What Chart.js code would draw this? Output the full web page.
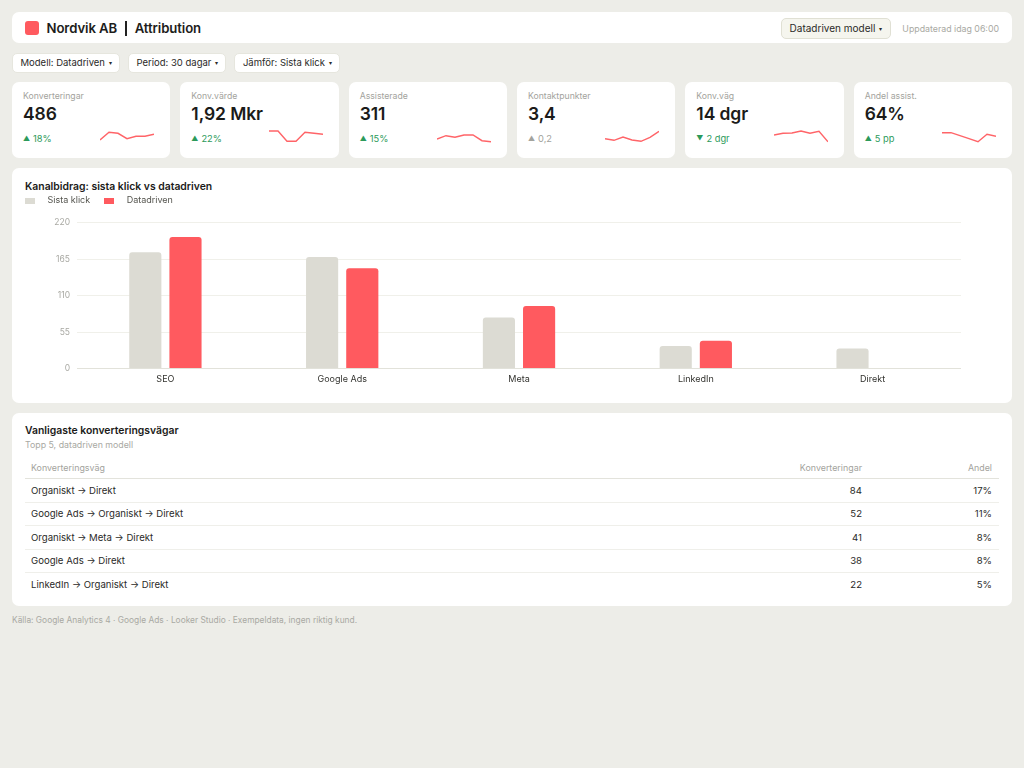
<!DOCTYPE html>
<html lang="sv">
<head>
<meta charset="utf-8">
<title>Nordvik AB | Attribution</title>
<script src="https://cdn.jsdelivr.net/npm/chart.js@4/dist/chart.umd.min.js"></script>
<style>
  html,body{margin:0;padding:0;}
  body{width:1024px;height:768px;background:#ededE8;font-family:Inter,"Noto Sans",sans-serif;color:#1d1d1b;position:relative;overflow:hidden;}
  .card{position:absolute;background:#fff;border-radius:7px;box-sizing:border-box;}
  #hdr{left:12px;top:12px;width:1000px;height:31px;}
  .logo{position:absolute;left:13px;top:8.5px;width:14px;height:14px;border-radius:3px;background:#ff5a5f;}
  .ttl{position:absolute;left:34.5px;top:6px;line-height:20px;font-size:13.2px;font-weight:600;white-space:nowrap;letter-spacing:-0.1px;}
  .sep{display:inline-block;width:1.5px;height:15px;background:#222;vertical-align:-2.5px;margin:0 8px 0 8px;}
  .hr{position:absolute;right:13px;top:5.5px;height:21px;display:flex;align-items:center;gap:11px;}
  .btn{height:21px;box-sizing:border-box;border:1px solid #e0e0d4;background:#f5f5ee;border-radius:5px;font-size:10px;line-height:19px;padding:0 8px 0 8px;color:#2a2a28;white-space:nowrap;}
  .caret{font-size:6px;vertical-align:1px;margin-left:4px;}
  .upd{font-size:8.8px;line-height:13px;color:#a9a9a3;white-space:nowrap;}
  #filters{position:absolute;left:12px;top:53px;display:flex;gap:8px;}
  .pill{height:20px;box-sizing:border-box;border:1px solid #e6e6de;background:#fff;border-radius:5px;font-size:9.5px;line-height:18px;padding:0 7px 0 7.5px;color:#2a2a28;white-space:nowrap;}
  #kpis{position:absolute;left:12px;top:82px;width:1000px;height:76px;display:grid;grid-template-columns:repeat(6,1fr);column-gap:10px;}
  .kpi{position:relative;background:#fff;border-radius:7px;}
  .kl{position:absolute;left:11px;top:8px;font-size:8.7px;line-height:12px;color:#a3a39d;}
  .kv{position:absolute;left:11px;top:21px;font-size:17.5px;line-height:22px;font-weight:600;color:#1b1b19;letter-spacing:-0.1px;}
  .kd{position:absolute;left:11px;top:51px;font-size:9.3px;line-height:12px;color:#2c9a5a;}
  .kd.neu{color:#a3a39d;}
  .tri{font-size:7px;vertical-align:1px;margin-right:3px;}
  .spark{position:absolute;right:16px;top:44px;width:54px;height:18px;}
  #chartCard{left:12px;top:168px;width:1000px;height:235px;}
  .ct{position:absolute;left:13px;top:11.5px;font-size:10.4px;line-height:14px;font-weight:600;color:#1b1b19;}
  #barWrap{position:absolute;left:-1px;top:21.5px;width:950px;height:195.5px;}
  #tableCard{left:12px;top:413px;width:1000px;height:193px;}
  .tt{position:absolute;left:13px;top:10.5px;font-size:10.4px;line-height:14px;font-weight:600;color:#1b1b19;}
  .ts{position:absolute;left:13px;top:25.5px;font-size:8.8px;line-height:12px;color:#a9a9a3;}
  table{position:absolute;left:13px;top:43px;width:974px;border-collapse:collapse;font-size:9.6px;color:#2a2a28;}
  th{font-weight:400;font-size:8.9px;color:#a3a39d;height:22px;padding:0 7px 0 6px;border-bottom:1px solid #e3e3dc;text-align:left;}
  td{height:22.5px;padding:0 7px 0 6px;border-bottom:1px solid #efefea;}
  tr:last-child td{border-bottom:none;}
  .r{text-align:right;}
  .foot{position:absolute;left:12px;top:614px;font-size:8.4px;line-height:12px;color:#a9a9a3;white-space:nowrap;}
</style>
</head>
<body>
<div class="card" id="hdr">
  <div class="logo"></div>
  <div class="ttl">Nordvik AB<span class="sep"></span>Attribution</div>
  <div class="hr">
    <div class="btn">Datadriven modell<span class="caret">▾</span></div>
    <div class="upd">Uppdaterad idag 06:00</div>
  </div>
</div>

<div id="filters">
  <div class="pill">Modell: Datadriven<span class="caret">▾</span></div>
  <div class="pill">Period: 30 dagar<span class="caret">▾</span></div>
  <div class="pill">Jämför: Sista klick<span class="caret">▾</span></div>
</div>

<div id="kpis"></div>

<div class="card" id="chartCard">
  <div class="ct">Kanalbidrag: sista klick vs datadriven</div>
  <div id="barWrap"><canvas id="bars"></canvas></div>
</div>

<div class="card" id="tableCard">
  <div class="tt">Vanligaste konverteringsvägar</div>
  <div class="ts">Topp 5, datadriven modell</div>
  <table id="paths">
    <thead><tr><th>Konverteringsväg</th><th class="r" style="width:150px;">Konverteringar</th><th class="r" style="width:117px;">Andel</th></tr></thead>
    <tbody></tbody>
  </table>
</div>

<div class="foot">Källa: Google Analytics 4 · Google Ads · Looker Studio · Exempeldata, ingen riktig kund.</div>

<script>
// ---- Data ----
const kanaler = ['SEO', 'Google Ads', 'Meta', 'LinkedIn', 'Direkt'];
const sistaKlick = [175, 168, 77, 34, 30];
const datadriven = [198, 151, 94, 42, null];
const yTicks = [0, 55, 110, 165, 220];

const kpiLabels = ['Konverteringar', 'Konv.värde', 'Assisterade', 'Kontaktpunkter', 'Konv.väg', 'Andel assist.'];
const kpiValues = ['486', '1,92 Mkr', '311', '3,4', '14 dgr', '64%'];
const kpiDeltas = ['18%', '22%', '15%', '0,2', '2 dgr', '5 pp'];
const kpiDir = ['up', 'up', 'up', 'neutral', 'down', 'up'];

const sparkKonv = [4, 11.7, 10.7, 5.3, 7.7, 7.7, 9.7];
const sparkVarde = [13, 13, 2.7, 2.7, 11.7, 10.7, 9.7];
const sparkAssist = [5, 8.3, 6.7, 9, 9, 3.3, 2.3];
const sparkKontakt = [5.3, 3.7, 7, 4, 2.7, 6.7, 12.7];
const sparkVag = [9, 10.7, 11, 13, 10.7, 12.7, 2.3];
const sparkAndel = [11.3, 11.3, 8.3, 5.3, 2.3, 9.7, 7.7];
const sparks = [sparkKonv, sparkVarde, sparkAssist, sparkKontakt, sparkVag, sparkAndel];

const vagar = ['Organiskt → Direkt', 'Google Ads → Organiskt → Direkt', 'Organiskt → Meta → Direkt', 'Google Ads → Direkt', 'LinkedIn → Organiskt → Direkt'];
const vagKonv = [84, 52, 41, 38, 22];
const vagAndel = ['17%', '11%', '8%', '8%', '5%'];

const GRAY = '#dcdbd3';
const RED = '#ff5a5f';

Chart.defaults.font.family = 'Inter, "Noto Sans", sans-serif';
Chart.defaults.animation = false;

// ---- KPI cards ----
const kpis = document.getElementById('kpis');
kpiLabels.forEach((lab, i) => {
  const c = document.createElement('div');
  c.className = 'kpi';
  const tri = kpiDir[i] === 'down' ? '▼' : '▲';
  c.innerHTML = '<div class="kl">' + lab + '</div><div class="kv">' + kpiValues[i] + '</div>' +
    '<div class="kd' + (kpiDir[i] === 'neutral' ? ' neu' : '') + '"><span class="tri">' + tri + '</span>' + kpiDeltas[i] + '</div>' +
    '<div class="spark"><canvas></canvas></div>';
  kpis.appendChild(c);
  const cv = c.querySelector('canvas');
  new Chart(cv, {
    type: 'line',
    data: { labels: sparks[i].map((_, k) => k), datasets: [{ data: sparks[i], borderColor: '#ff6468', borderWidth: 1.4, pointRadius: 0, tension: 0, fill: false, clip: false }] },
    options: {
      responsive: true, maintainAspectRatio: false,
      layout: { padding: 0 },
      plugins: { legend: { display: false }, tooltip: { enabled: false } },
      scales: { x: { display: false, offset: false }, y: { display: false, min: 0, max: 18 } }
    }
  });
});

// ---- Table ----
const tb = document.querySelector('#paths tbody');
vagar.forEach((v, i) => {
  const tr = document.createElement('tr');
  tr.innerHTML = '<td>' + v + '</td><td class="r">' + vagKonv[i] + '</td><td class="r">' + vagAndel[i] + '</td>';
  tb.appendChild(tr);
});

// ---- Bar chart ----
function swatch(color) {
  const s = document.createElement('canvas');
  s.width = 10; s.height = 6;
  const g = s.getContext('2d');
  g.fillStyle = color; g.fillRect(0, 0, 10, 6);
  return s;
}
const swatches = [swatch(GRAY), swatch(RED)];

const legendSpace = {
  id: 'legendSpace',
  beforeInit(chart) {
    const orig = chart.legend.fit;
    chart.legend.fit = function () { orig.call(this); this.height += 7.5; };
  }
};

new Chart(document.getElementById('bars'), {
  type: 'bar',
  data: {
    labels: kanaler,
    datasets: [
      { label: 'Sista klick', data: sistaKlick, backgroundColor: GRAY, borderRadius: 3, borderSkipped: 'start', categoryPercentage: 0.4545, barPercentage: 0.8 },
      { label: 'Datadriven', data: datadriven, backgroundColor: RED, borderRadius: 3, borderSkipped: 'start', categoryPercentage: 0.4545, barPercentage: 0.8 }
    ]
  },
  options: {
    responsive: true, maintainAspectRatio: false,
    layout: { padding: 0 },
    plugins: {
      tooltip: { enabled: false },
      legend: {
        position: 'top', align: 'start',
        labels: {
          usePointStyle: true, pointStyleWidth: 26, padding: 6,
          color: '#55554f', font: { size: 9 },
          generateLabels(chart) {
            const items = Chart.defaults.plugins.legend.labels.generateLabels(chart);
            items.forEach((it, k) => { it.pointStyle = swatches[k]; });
            return items;
          }
        }
      }
    },
    scales: {
      x: {
        grid: { display: false, drawTicks: false },
        border: { display: false },
        ticks: { color: '#33332f', font: { size: 9 }, padding: 5 },
        afterFit(s) { s.height = 17; }
      },
      y: {
        min: 0, max: 220,
        afterBuildTicks(s) { s.ticks = yTicks.map(v => ({ value: v })); },
        grid: { color: ctx => (ctx.tick && ctx.tick.value === 0) ? '#e2e2da' : '#f0f0ea', drawTicks: false, lineWidth: 1 },
        border: { display: false },
        ticks: { color: '#a9a9a3', font: { size: 8.5 }, padding: 7 },
        afterFit(s) { s.width = 66; }
      }
    }
  },
  plugins: [legendSpace]
});
</script>
</body>
</html>
